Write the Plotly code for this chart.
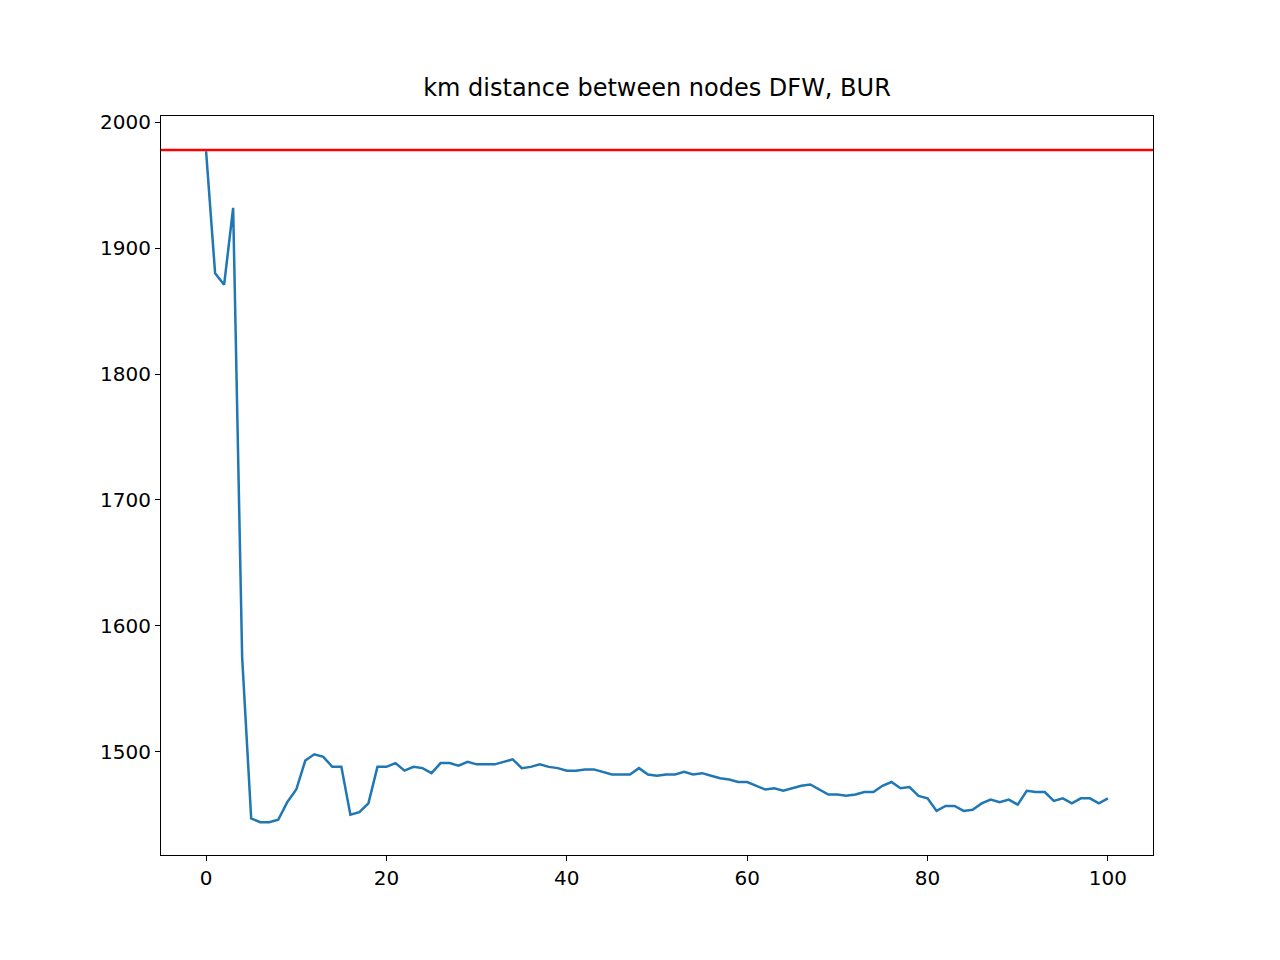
import plotly.graph_objects as go

steps = list(range(101))
distance_km = [
    1977, 1880, 1871, 1932, 1575, 1447, 1444, 1444, 1446, 1460,
    1470, 1493, 1498, 1496, 1488, 1488, 1450, 1452, 1459, 1488,
    1488, 1491, 1485, 1488, 1487, 1483, 1491, 1491, 1489, 1492,
    1490, 1490, 1490, 1492, 1494, 1487, 1488, 1490, 1488, 1487,
    1485, 1485, 1486, 1486, 1484, 1482, 1482, 1482, 1487, 1482,
    1481, 1482, 1482, 1484, 1482, 1483, 1481, 1479, 1478, 1476,
    1476, 1473, 1470, 1471, 1469, 1471, 1473, 1474, 1470, 1466,
    1466, 1465, 1466, 1468, 1468, 1473, 1476, 1471, 1472, 1465,
    1463, 1453, 1457, 1457, 1453, 1454, 1459, 1462, 1460, 1462,
    1458, 1469, 1468, 1468, 1461, 1463, 1459, 1463, 1463, 1459,
    1463,
]
reference_km = 1978

fig = go.Figure()
fig.add_trace(go.Scatter(x=steps, y=distance_km, mode="lines",
                         line=dict(color="#1f77b4", width=2.5)))
fig.add_hline(y=reference_km, line=dict(color="red", width=2.5))

axis_style = dict(showline=True, linecolor="black", linewidth=1, mirror=True,
                  ticks="outside", ticklen=5, tickcolor="black",
                  showgrid=False, zeroline=False,
                  tickfont=dict(family="DejaVu Sans", size=20, color="black"))
fig.update_xaxes(range=[-5, 105], tickvals=[0, 20, 40, 60, 80, 100], **axis_style)
fig.update_yaxes(range=[1418, 2005], tickvals=[1500, 1600, 1700, 1800, 1900, 2000], **axis_style)

fig.update_layout(
    width=1280, height=960,
    margin=dict(l=153, r=135, t=108, b=113),
    plot_bgcolor="white", paper_bgcolor="white",
    showlegend=False,
    title=dict(text="km distance between nodes DFW, BUR", x=0.5, xref="paper",
               xanchor="center", y=0.908, yanchor="bottom",
               font=dict(family="DejaVu Sans", size=24, color="black")),
)

fig.write_html("out.html")
